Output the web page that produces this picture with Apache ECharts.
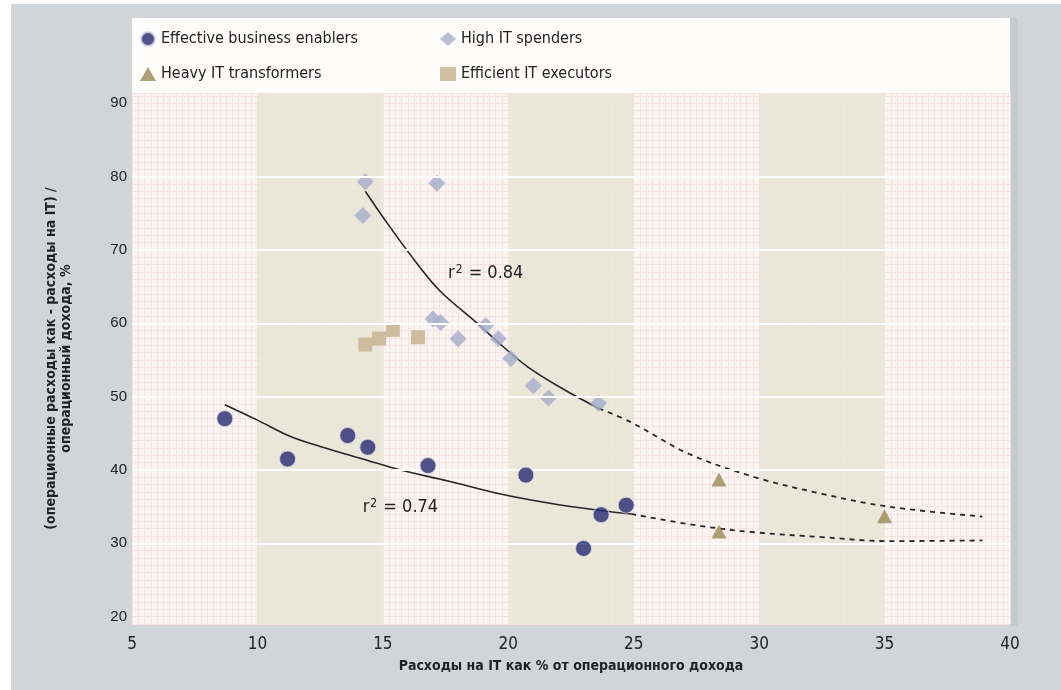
<!DOCTYPE html>
<html><head><meta charset="utf-8">
<script src="https://cdn.jsdelivr.net/npm/echarts@6/dist/echarts.min.js"></script>
<style>html,body{margin:0;padding:0;background:#fff}#c{width:1061px;height:690px}</style>
</head><body><div id="c"></div>
<script>
var enablersX = [8.7, 11.2, 13.6, 14.4, 16.8, 20.7, 23.0, 23.7, 24.7];
var enablersY = [47.0, 41.5, 44.7, 43.1, 40.6, 39.3, 29.3, 33.9, 35.2];
var spendersX = [14.2, 14.3, 17.15, 17.0, 17.3, 18.0, 19.1, 19.6, 20.1, 21.0, 21.6, 23.6];
var spendersY = [74.7, 79.3, 79.1, 60.6, 60.1, 57.9, 59.7, 57.9, 55.2, 51.5, 49.8, 49.1];
var transformersX = [28.4, 28.4, 35.0];
var transformersY = [38.7, 31.6, 33.7];
var executorsX = [14.3, 14.85, 15.4, 16.4];
var executorsY = [57.1, 57.9, 59.1, 58.1];
var upperSolid = [[14.3,78.0],[15.0,74.5],[16.06,69.5],[17.25,64.5],[18.7,60.2],[19.8,56.8],[20.8,54.0],[22.2,51.0],[23.6,48.4]];
var upperDashed = [[23.6,48.4],[24.9,46.5],[27.2,42.2],[29.85,39.0],[32.5,36.75],[35.15,35.0],[38.9,33.65]];
var lowerSolid = [[8.7,48.9],[10,46.8],[11.3,44.6],[12.5,43.2],[14.4,41.3],[15.7,40.0],[17.6,38.5],[19.6,36.8],[21.6,35.5],[23.6,34.5],[24.9,34.0]];
var lowerDashed = [[24.9,34.0],[27.6,32.4],[29.85,31.5],[32.5,30.85],[35.15,30.3],[38.9,30.4]];
var xTickLabels = [5, 10, 15, 20, 25, 30, 35, 40];
var yTickLabels = [20, 30, 40, 50, 60, 70, 80, 90];
var whiteLines = [30, 40, 50, 60, 70, 80];
var bands = [[10, 15], [20, 25], [30, 35]];
var r2Upper = {x: 19.1, y: 66.8, text: '0.84'};
var r2Lower = {x: 15.7, y: 34.9, text: '0.74'};

function zip(xs, ys){ return xs.map(function(x,i){ return [x, ys[i]]; }); }
var NF = "'Liberation Sans Narrow','DejaVu Sans Condensed','Liberation Sans',sans-serif";
var chart = echarts.init(document.getElementById('c'));
var r2Rich = {a:{fontFamily:NF,fontSize:18,color:'#222'}, b:{fontFamily:NF,fontSize:12,color:'#222',verticalAlign:'top',padding:[0,1,8,1]}};
function r2Point(p){
  return {symbol:'circle', symbolSize:0, data:[{coord:[p.x,p.y]}],
    label:{show:true, position:'inside', formatter:'{a|r}{b|2}{a| = '+p.text+'}', rich:r2Rich}};
}
var option = {
  backgroundColor:'#ffffff',
  animation:false,
  graphic:[
    {type:'rect', z:-10, shape:{x:11,y:4,width:1050,height:686}, style:{fill:'#d2d5d8'}},
    {type:'rect', z:-9, shape:{x:1010,y:18,width:8,height:608}, style:{fill:'#c8cbce'}},
    {type:'rect', z:-9, shape:{x:132,y:18,width:878,height:76}, style:{fill:'#fffdfb'}}
  ],
  legend:[
    {data:['Effective business enablers','Heavy IT transformers'], orient:'vertical', left:135, top:26, itemGap:19, itemWidth:16, itemHeight:14,
     textStyle:{fontFamily:NF,fontSize:16,color:'#222'}},
    {data:['High IT spenders','Efficient IT executors'], orient:'vertical', left:435, top:26, itemGap:19, itemWidth:16, itemHeight:14,
     textStyle:{fontFamily:NF,fontSize:16,color:'#222'}}
  ],
  grid:{left:132, right:51, top:93, bottom:66, show:true, backgroundColor:'#fcf4f2', borderWidth:0},
  xAxis:{type:'value', min:5, max:40, interval:0.25,
    name:'Расходы на IT как % от операционного дохода', nameLocation:'middle', nameGap:35,
    nameTextStyle:{fontFamily:NF,fontSize:14,fontWeight:'bold',color:'#222'},
    axisLine:{show:false}, axisTick:{show:false},
    axisLabel:{customValues:xTickLabels, fontFamily:NF, fontSize:17, color:'#222', margin:12},
    splitLine:{show:true, lineStyle:{color:'#f5e3e1', width:1}}},
  yAxis:{type:'value', min:19, max:91.4, interval:1,
    name:'(операционные расходы как - расходы на IT) /\nоперационный дохода, %', nameLocation:'middle', nameGap:58,
    nameTextStyle:{fontFamily:NF,fontSize:14,fontWeight:'bold',color:'#222',lineHeight:15},
    axisLine:{show:false}, axisTick:{show:false},
    axisLabel:{customValues:yTickLabels, fontFamily:"'Liberation Sans',sans-serif", fontSize:15, color:'#222', margin:5},
    splitLine:{show:true, lineStyle:{color:'#f5e3e1', width:1}}},
  series:[
    {type:'scatter', name:'bg', data:[], silent:true, z:1,
     markArea:{silent:true, itemStyle:{color:'rgba(233,229,214,0.9)'},
       data: bands.map(function(b){ return [{xAxis:b[0], yAxis:19}, {xAxis:b[1], yAxis:91.4}]; })},
     markLine:{silent:true, symbol:'none', label:{show:false}, lineStyle:{color:'#ffffff', width:2, type:'solid'},
       data: whiteLines.map(function(v){ return {yAxis:v}; })}},
    {type:'line', name:'upperSolid', data:upperSolid, showSymbol:false, symbol:'none', z:3, smooth:0.35,
     lineStyle:{color:'#262626', width:1.6}, markPoint:r2Point(r2Upper)},
    {type:'line', name:'upperDashed', data:upperDashed, showSymbol:false, symbol:'none', z:3, smooth:0.35,
     lineStyle:{color:'#262626', width:1.8, type:[5,5]}},
    {type:'line', name:'lowerSolid', data:lowerSolid, showSymbol:false, symbol:'none', z:3, smooth:0.35,
     lineStyle:{color:'#262626', width:1.6}, markPoint:r2Point(r2Lower)},
    {type:'line', name:'lowerDashed', data:lowerDashed, showSymbol:false, symbol:'none', z:3, smooth:0.35,
     lineStyle:{color:'#262626', width:1.8, type:[5,5]}},
    {type:'scatter', name:'Effective business enablers', symbol:'circle', symbolSize:16, z:5,
     data:zip(enablersX, enablersY), itemStyle:{color:'#262a72', borderColor:'#d8d9ea', borderWidth:1}},
    {type:'scatter', name:'High IT spenders', symbol:'diamond', symbolSize:[17,17], z:4,
     data:zip(spendersX, spendersY), itemStyle:{color:'#a4accb'}},
    {type:'scatter', name:'Heavy IT transformers', symbol:'triangle', symbolSize:[15,14], z:5,
     data:zip(transformersX, transformersY), itemStyle:{color:'#9b8a55'}},
    {type:'scatter', name:'Efficient IT executors', symbol:'rect', symbolSize:14, z:4,
     data:zip(executorsX, executorsY), itemStyle:{color:'#cbb797', opacity:0.9}}
  ]
};
chart.setOption(option);
</script></body></html>
